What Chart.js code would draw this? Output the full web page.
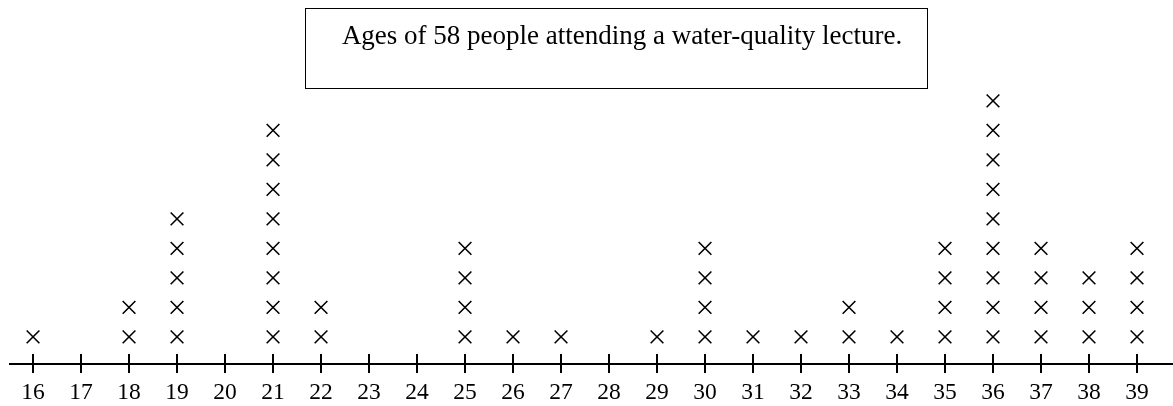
<!DOCTYPE html>
<html>
<head>
<meta charset="utf-8">
<script src="https://cdn.jsdelivr.net/npm/chart.js@4"></script>
<style>
  html, body { margin: 0; padding: 0; background: #fff; }
  #wrap { position: relative; width: 1173px; height: 406px; }
  #titleBox {
    position: absolute; left: 305px; top: 8px; width: 610px; height: 79px;
    padding-left: 11px;
    border: 1.5px solid #000; box-sizing: content-box;
    font-family: "Liberation Serif", "Times New Roman", serif; font-size: 27px;
    text-align: center; line-height: 52px; color: #000;
  }
</style>
</head>
<body>
<div id="wrap">
  <canvas id="dotPlot" width="1173" height="406"></canvas>
  <div id="titleBox">Ages of 58 people attending a water-quality lecture.</div>
</div>
<script>
// Ages on the number line and how many people had each age
const ages   = [16, 17, 18, 19, 20, 21, 22, 23, 24, 25, 26, 27, 28, 29, 30, 31, 32, 33, 34, 35, 36, 37, 38, 39];
const counts = [ 1,  0,  2,  5,  0,  8,  2,  0,  0,  4,  1,  1,  0,  1,  4,  1,  1,  2,  1,  4,  9,  4,  3,  4];
const tickLabels = ages.map(String);

// one X per person, stacked up
const points = [];
ages.forEach((age, i) => {
  for (let k = 1; k <= counts[i]; k++) points.push({ x: age, y: k });
});

// tick marks crossing the axis line
const crossTicks = {
  id: 'crossTicks',
  afterDraw(chart) {
    const sx = chart.scales.x;
    const ctx = chart.ctx;
    const y = chart.chartArea.bottom;
    ctx.save();
    ctx.strokeStyle = '#000';
    ctx.lineWidth = 2;
    sx.ticks.forEach(t => {
      const x = Math.round(sx.getPixelForValue(t.value));
      ctx.beginPath();
      ctx.moveTo(x, y - 10);
      ctx.lineTo(x, y + 9);
      ctx.stroke();
    });
    ctx.restore();
  }
};

function initChart() {
  new Chart(document.getElementById('dotPlot'), {
    type: 'scatter',
    data: {
      datasets: [{
        data: points,
        pointStyle: 'crossRot',
        pointRadius: 9,
        pointHoverRadius: 9,
        borderColor: '#000',
        borderWidth: 1.6,
        backgroundColor: '#000',
        clip: false
      }]
    },
    options: {
      responsive: false,
      animation: false,
      events: [],
      layout: { autoPadding: false, padding: { left: 10, right: 0, top: 0, bottom: 0 } },
      plugins: { legend: { display: false }, tooltip: { enabled: false } },
      scales: {
        x: {
          type: 'linear',
          min: 15.52,
          max: 39.75,
          afterBuildTicks: scale => { scale.ticks = ages.map(v => ({ value: v })); },
          afterFit: scale => {
            scale.height = 42;
            scale.paddingLeft = 0;
            scale.paddingRight = 0;
          },
          grid: { display: false, drawTicks: false },
          border: { display: true, color: '#000', width: 2 },
          ticks: {
            autoSkip: false,
            maxRotation: 0,
            padding: 15,
            color: '#000',
            font: { family: '"Liberation Serif", "Times New Roman", serif', size: 23.5 },
            callback: (v, i) => tickLabels[i]
          }
        },
        y: {
          type: 'linear',
          display: false,
          min: 0.08,
          max: 12.42
        }
      }
    },
    plugins: [crossTicks]
  });
}

document.addEventListener('DOMContentLoaded', initChart);
</script>
</body>
</html>
